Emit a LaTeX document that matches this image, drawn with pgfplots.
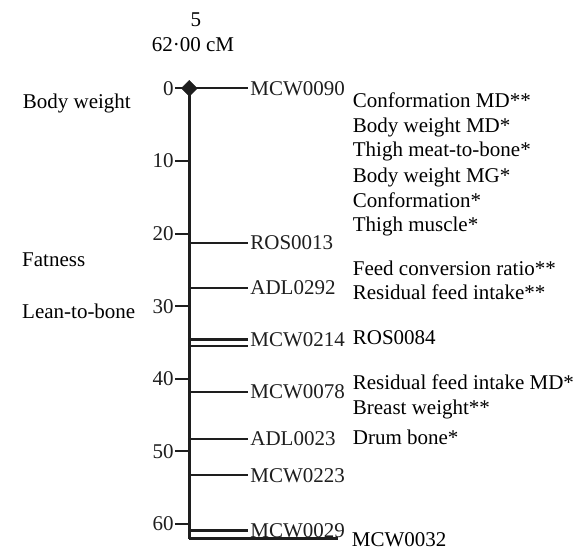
\documentclass[border=0pt]{standalone}
\usepackage{fontspec}
\setmainfont{Liberation Serif}
\usepackage{pgfplots}
\pgfplotsset{compat=1.18}
\definecolor{ink}{RGB}{30,30,30}
\begin{document}
\fontsize{21}{25}\selectfont
\begin{tikzpicture}
\begin{axis}[
  scale only axis, width=395.7pt, height=450.2pt,
  xmin=0, xmax=395.7, ymin=0, ymax=62, y dir=reverse,
  enlargelimits=false, clip=false,
  axis x line=none, axis y line*=left,
  axis line style={-, line width=3pt, color=ink},
  ytick={0,10,...,60},
  tick align=outside, major tick length=14pt,
  major tick style={line width=2pt, color=ink},
  /pgf/number format/assume math mode=true,
  yticklabel style={font=\fontsize{21}{25}\selectfont, text=ink, inner sep=1.5pt},
  every node/.append style={font=\fontsize{21}{25}\selectfont, text=ink},
]
% marker positions (cM)
\addplot[ink, line width=2.2pt] coordinates {(0,0) (59,0)} node[anchor=west, inner sep=1pt] {MCW0090};
\addplot[ink, line width=2.2pt] coordinates {(0,21.3) (59,21.3)} node[anchor=west, inner sep=1pt] {ROS0013};
\addplot[ink, line width=2.2pt] coordinates {(0,27.5) (59,27.5)} node[anchor=west, inner sep=1pt] {ADL0292};
\addplot[ink, line width=2.2pt] coordinates {(0,34.6) (59,34.6)} node[anchor=west, inner sep=1pt] {MCW0214};
\addplot[ink, line width=2.2pt] coordinates {(0,35.5) (59,35.5)};
\addplot[ink, line width=2.2pt] coordinates {(0,41.8) (59,41.8)} node[anchor=west, inner sep=1pt] {MCW0078};
\addplot[ink, line width=2.2pt] coordinates {(0,48.3) (59,48.3)} node[anchor=west, inner sep=1pt] {ADL0023};
\addplot[ink, line width=2.2pt] coordinates {(0,53.3) (59,53.3)} node[anchor=west, inner sep=1pt] {MCW0223};
\addplot[ink, line width=2.2pt] coordinates {(0,60.9) (59,60.9)} node[anchor=west, inner sep=1pt] {MCW0029};
\addplot[ink, line width=2.2pt] coordinates {(0,62) (149,62)};
\addplot[only marks, mark=square*, mark size=5.6pt, mark options={rotate=45, fill=ink, draw=ink}] coordinates {(0,0)};
% title
\node[anchor=base, inner sep=0pt] at (axis cs:6.7,-8.58) {5};
\node[anchor=base, inner sep=0pt] at (axis cs:3.7,-5.0) {62·00 cM};
% left trait groups
\node[anchor=base west, inner sep=0pt] at (axis cs:-166.6,2.75) {Body weight};
\node[anchor=base west, inner sep=0pt] at (axis cs:-167.3,24.57) {Fatness};
\node[anchor=base west, inner sep=0pt] at (axis cs:-167.3,31.67) {Lean-to-bone};
% right trait labels
\node[anchor=base west, inner sep=0pt] at (axis cs:163.4,2.62) {Conformation MD**};
\node[anchor=base west, inner sep=0pt] at (axis cs:163.4,6.11) {Body weight MD*};
\node[anchor=base west, inner sep=0pt] at (axis cs:163.4,9.42) {Thigh meat-to-bone*};
\node[anchor=base west, inner sep=0pt] at (axis cs:163.4,12.94) {Body weight MG*};
\node[anchor=base west, inner sep=0pt] at (axis cs:163.4,16.44) {Conformation*};
\node[anchor=base west, inner sep=0pt] at (axis cs:163.4,19.75) {Thigh muscle*};
\node[anchor=base west, inner sep=0pt] at (axis cs:163.4,25.82) {Feed conversion ratio**};
\node[anchor=base west, inner sep=0pt] at (axis cs:163.4,29.06) {Residual feed intake**};
\node[anchor=base west, inner sep=0pt] at (axis cs:163.4,35.35) {ROS0084};
\node[anchor=base west, inner sep=0pt] at (axis cs:163.4,41.54) {Residual feed intake MD*};
\node[anchor=base west, inner sep=0pt] at (axis cs:163.4,44.89) {Breast weight**};
\node[anchor=base west, inner sep=0pt] at (axis cs:163.4,49.12) {Drum bone*};
\node[anchor=base west, inner sep=0pt] at (axis cs:162.4,63.12) {MCW0032};
\end{axis}
\pgfresetboundingbox
\path (-189.3pt,-12.5pt) rectangle (395.7pt,538.5pt);
\end{tikzpicture}
\end{document}
